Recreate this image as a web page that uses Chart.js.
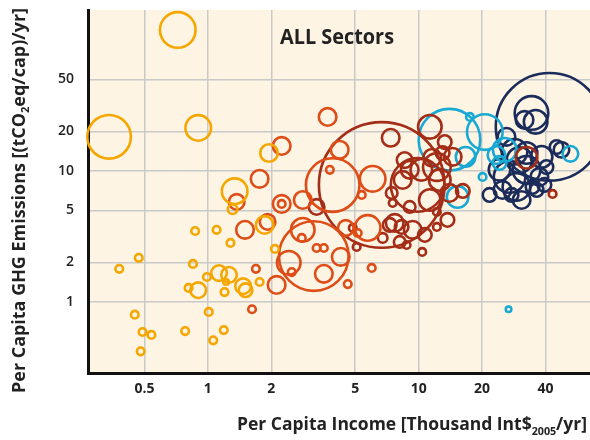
<!DOCTYPE html>
<html>
<head>
<meta charset="utf-8">
<script src="https://cdn.jsdelivr.net/npm/chart.js@4.4.1/dist/chart.umd.min.js"></script>
<style>
  html, body { margin: 0; padding: 0; background: #fff; }
</style>
</head>
<body>
<canvas id="myChart" width="590" height="440"></canvas>
<script>
// tick values on the two log axes
const xTicks = [0.5, 1, 2, 5, 10, 20, 40];
const yTicks = [1, 2, 5, 10, 20, 50];

// income (thousand Int$2005/yr), emissions (tCO2eq/cap/yr), bubble size
const lowIncome = [0.72, 0.34, 0.90, 1.95, 1.34, 1.31, 1.86, 0.87, 1.10, 1.28, 2.08, 0.47, 0.38, 0.85, 0.99, 1.13, 1.26, 0.90, 0.81, 1.20, 1.22, 1.47, 1.51, 1.76, 0.45, 0.49, 0.54, 0.48, 0.78, 1.01, 1.06, 1.19];
const lowEmission = [119, 18.2, 21.3, 13.7, 7.0, 5.1, 3.87, 3.48, 3.55, 2.82, 2.54, 2.17, 1.79, 1.95, 1.55, 1.66, 1.61, 1.23, 1.28, 1.19, 1.42, 1.32, 1.23, 1.42, 0.80, 0.59, 0.56, 0.42, 0.60, 0.84, 0.51, 0.61];
const lowSize = [19, 23, 14, 10, 14, 6, 10, 5, 5, 5, 5, 5, 5, 5, 5, 9, 9, 9, 5, 5, 4, 9, 8, 5, 5, 5, 5, 5, 5, 5, 5, 5];

const lmIncome = [2.24, 1.76, 1.37, 2.24, 2.24, 2.82, 3.70, 4.22, 3.91, 3.79, 6.05, 5.37, 1.92, 1.50, 3.18, 2.82, 2.79, 3.28, 3.55, 2.42, 2.50, 2.12, 1.69, 1.62, 3.55, 4.27, 4.61, 5.99, 5.73, 4.51, 5.14];
const lmEmission = [15.5, 8.7, 5.8, 5.6, 5.6, 6.0, 25.8, 14.5, 7.8, 10.2, 8.7, 6.56, 4.08, 3.55, 2.24, 3.55, 3.08, 2.58, 2.58, 1.99, 1.69, 1.35, 1.79, 0.88, 1.64, 2.21, 1.37, 1.82, 3.67, 3.67, 3.36];
const lmSize = [10, 10, 9, 10, 5, 10, 10, 10, 28, 5, 14, 5, 9, 10, 36, 13, 5, 5, 5, 13, 5, 10, 5, 5, 10, 10, 5, 5, 14, 9, 5];

const umIncome = [6.68, 7.37, 11.3, 3.28, 9.89, 7.45, 9.07, 7.53, 7.29, 8.30, 8.13, 8.77, 10.4, 4.87, 5.08, 11.3, 12.2, 12.2, 14.0, 12.6, 10.3, 11.6, 13.0, 16.2, 43.2, 32.5, 9.07, 8.40, 9.37, 12.2, 14.5, 13.3, 7.70, 8.58, 13.7, 10.7, 6.75];
const umEmission = [7.82, 17.9, 21.7, 5.31, 7.82, 6.79, 5.31, 5.70, 3.87, 3.74, 2.87, 2.72, 2.41, 3.67, 2.63, 6.0, 4.86, 3.74, 6.79, 8.54, 10.2, 12.6, 13.7, 7.03, 6.67, 12.6, 10.2, 8.54, 3.55, 10.7, 12.8, 16.6, 4.01, 12.1, 4.23, 3.25, 3.08];
const umSize = [64, 10, 13, 9, 28, 7, 7, 5, 8, 8, 7, 5, 5, 5, 5, 12, 5, 5, 10, 12, 12, 10, 8, 8, 5, 12, 10, 10, 10, 15, 10, 8, 10, 9, 8, 8, 6];

const hnIncome = [14.0, 20.6, 17.5, 16.7, 20.1, 23.4, 52.5, 25.6, 26.7, 15.3, 24.2];
const hnEmission = [17.3, 19.8, 25.8, 12.8, 9.0, 13.2, 13.5, 14.5, 0.88, 6.33, 11.5];
const hnSize = [32, 19, 5, 11, 5, 10, 9, 13, 4, 12, 8];

const hoIncome = [41.8, 34.3, 31.8, 35.9, 47.6, 27.0, 29.1, 24.2, 21.7, 32.5, 37.4, 40.4, 34.7, 25.0, 28.5, 32.5, 45.1, 38.3, 36.3, 26.1, 30.8, 39.5, 30.1, 27.6];
const hoEmission = [21.7, 27.7, 24.5, 23.7, 14.5, 9.0, 7.55, 10.2, 6.56, 10.2, 9.0, 10.7, 7.55, 7.16, 14.0, 13.7, 15.2, 12.8, 7.16, 18.2, 6.0, 7.82, 12.1, 6.56];
const hoSize = [55, 18, 10, 13, 9, 17, 15, 12, 8, 15, 10, 8, 8, 10, 14, 12, 8, 12, 8, 10, 10, 8, 14, 8];

function pts(xs, ys, rs) {
  return xs.map((x, i) => ({ x: x, y: ys[i], r: rs[i] - 1.2 }));
}

const font = '"Open Sans", "DejaVu Sans", sans-serif';

const bgPlugin = {
  id: "bg",
  beforeDraw(chart) {
    const { ctx, chartArea: a } = chart;
    ctx.save();
    ctx.fillStyle = "#fdf4e3";
    ctx.fillRect(a.left, a.top, a.right - a.left, a.bottom - a.top);
    ctx.restore();
  },
};

// draws runs of [text, size, dy] squeezed to a given width
function drawRuns(ctx, runs, width) {
  let total = 0;
  runs.forEach((r) => {
    ctx.font = "bold " + r[1] + "px " + font;
    total += ctx.measureText(r[0]).width;
  });
  ctx.scale(width / total, 1);
  let x = 0;
  runs.forEach((r) => {
    ctx.font = "bold " + r[1] + "px " + font;
    ctx.fillText(r[0], x, r[2]);
    x += ctx.measureText(r[0]).width;
  });
}

const textPlugin = {
  id: "texts",
  afterDraw(chart) {
    const ctx = chart.ctx;
    ctx.save();
    ctx.fillStyle = "#222";
    ctx.textBaseline = "alphabetic";
    ctx.textAlign = "left";

    // y title
    ctx.save();
    ctx.translate(25, 393);
    ctx.rotate(-Math.PI / 2);
    drawRuns(ctx, [["Per Capita GHG Emissions [(tCO", 18, 0], ["2", 11, 4], ["eq/cap)/yr]", 18, 0]], 385);
    ctx.restore();

    // x title
    ctx.save();
    ctx.translate(237, 430);
    drawRuns(ctx, [["Per Capita Income [Thousand Int$", 18, 0], ["2005", 11, 5], ["/yr]", 18, 0]], 350);
    ctx.restore();

    // panel label
    ctx.save();
    ctx.translate(280, 44);
    drawRuns(ctx, [["ALL Sectors", 22, 0]], 114);
    ctx.restore();

    ctx.restore();
  },
};

function noPad(s) {
  s.paddingTop = 0;
  s.paddingBottom = 0;
  s.paddingLeft = 0;
  s.paddingRight = 0;
}

const ctx = document.getElementById("myChart");

new Chart(ctx, {
  type: "bubble",
  data: {
    datasets: [
      { label: "Low income", data: pts(lowIncome, lowEmission, lowSize), borderColor: "#f5a700" },
      { label: "Lower middle income", data: pts(lmIncome, lmEmission, lmSize), borderColor: "#de4d18" },
      { label: "Upper middle income", data: pts(umIncome, umEmission, umSize), borderColor: "#a32d17" },
      { label: "High income non-OECD", data: pts(hnIncome, hnEmission, hnSize), borderColor: "#19a9d3" },
      { label: "High income OECD", data: pts(hoIncome, hoEmission, hoSize), borderColor: "#1b2c5b" },
    ],
  },
  options: {
    responsive: false,
    animation: false,
    events: [],
    layout: { autoPadding: false, padding: { top: 10, right: 0, left: 0, bottom: 0 } },
    elements: {
      point: { backgroundColor: "rgba(0,0,0,0)", borderWidth: 2.6, hoverRadius: 0 },
    },
    datasets: { bubble: { backgroundColor: "rgba(0,0,0,0)", borderWidth: 2.6, clip: false } },
    plugins: { legend: { display: false }, tooltip: { enabled: false } },
    scales: {
      x: {
        type: "logarithmic",
        min: 0.27,
        max: 65,
        afterBuildTicks: (s) => { s.ticks = xTicks.map((v) => ({ value: v })); },
        afterFit: (s) => { s.height = 67; noPad(s); },
        ticks: {
          color: "#222",
          font: { family: font, size: 14, weight: "bold" },
          padding: 8,
          maxRotation: 0,
          autoSkip: false,
          callback: (v) => String(v),
        },
        grid: { color: "#c9c9c9", lineWidth: 1.5, drawTicks: false },
        border: { display: true, color: "#111", width: 3 },
      },
      y: {
        type: "logarithmic",
        min: 0.287,
        max: 169,
        afterBuildTicks: (s) => { s.ticks = yTicks.map((v) => ({ value: v })); },
        afterFit: (s) => { s.width = 88; noPad(s); },
        ticks: {
          color: "#222",
          font: { family: font, size: 14, weight: "600" },
          padding: 14,
          autoSkip: false,
          callback: (v) => String(v),
        },
        grid: { color: "#c9c9c9", lineWidth: 1.5, drawTicks: false },
        border: { display: true, color: "#111", width: 3 },
      },
    },
  },
  plugins: [bgPlugin, textPlugin],
});
</script>
</body>
</html>
